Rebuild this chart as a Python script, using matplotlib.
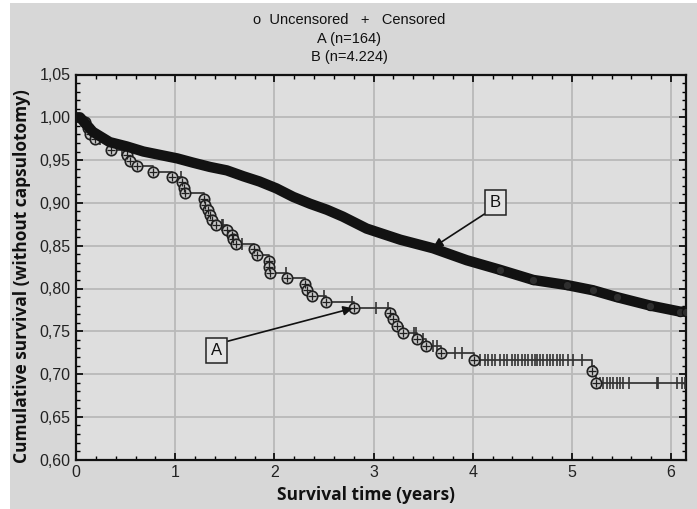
import matplotlib
matplotlib.use('Agg')
import matplotlib.pyplot as plt
from matplotlib.patches import Rectangle
from matplotlib.ticker import MultipleLocator, FuncFormatter
import numpy as np

# group A (n=164): event times (years) and survival after each event
a_time = [0.09, 0.12, 0.14, 0.19, 0.35, 0.51, 0.54, 0.62, 0.78, 0.97, 1.07, 1.09, 1.10,
          1.29, 1.30, 1.33, 1.35, 1.37, 1.41, 1.52, 1.57, 1.58, 1.61, 1.79, 1.82,
          1.95, 1.95, 1.96, 2.13, 2.31, 2.33, 2.38, 2.52, 2.80, 3.17, 3.20, 3.24,
          3.30, 3.44, 3.53, 3.68, 4.01, 5.20, 5.24]
a_surv = [0.994, 0.987, 0.981, 0.975, 0.962, 0.956, 0.949, 0.943, 0.936, 0.930, 0.924,
          0.917, 0.911, 0.905, 0.898, 0.892, 0.886, 0.880, 0.874, 0.868, 0.862, 0.858,
          0.852, 0.846, 0.839, 0.832, 0.825, 0.818, 0.812, 0.805, 0.798, 0.791, 0.784,
          0.777, 0.771, 0.764, 0.756, 0.748, 0.741, 0.733, 0.725, 0.717, 0.704, 0.690]
# group A censored times
a_cens = [0.24, 0.46, 1.06, 1.47, 1.48, 1.67, 2.12, 2.50, 2.78, 3.02, 3.15, 3.41, 3.43,
          3.50, 3.60, 3.64, 3.82, 3.89,
          4.07, 4.12, 4.15, 4.19, 4.22, 4.27, 4.32, 4.35, 4.40, 4.43, 4.46, 4.50, 4.53,
          4.56, 4.60, 4.63, 4.65, 4.68, 4.71, 4.75, 4.78, 4.81, 4.85, 4.88, 4.91, 4.96,
          5.01, 5.10, 5.22,
          5.28, 5.31, 5.35, 5.38, 5.41, 5.45, 5.48, 5.51, 5.58, 5.86, 5.87, 6.06, 6.11, 6.14]

# group B (n=4.224): survival along the curve
b_time = [0.0, 0.04, 0.17, 0.34, 0.51, 0.68, 0.85, 1.02, 1.18, 1.35, 1.52, 1.69, 1.85,
          2.02, 2.19, 2.36, 2.53, 2.69, 2.93, 3.27, 3.60, 3.94, 4.27, 4.61, 4.95, 5.21,
          5.45, 5.79, 6.09, 6.15]
b_surv = [1.000, 1.000, 0.983, 0.971, 0.966, 0.960, 0.956, 0.952, 0.947, 0.942, 0.938,
          0.931, 0.925, 0.917, 0.907, 0.899, 0.892, 0.884, 0.870, 0.857, 0.847, 0.833,
          0.822, 0.810, 0.804, 0.798, 0.790, 0.780, 0.773, 0.773]

x_end = 6.15

plt.rcParams['font.family'] = ['Liberation Sans Narrow', 'Liberation Sans', 'DejaVu Sans']

W, H = 697, 509
fig = plt.figure(figsize=(W / 100, H / 100), dpi=100, facecolor='white')
fig.patches.append(Rectangle((10 / W, 0), 1, 1 - 3 / H, transform=fig.transFigure,
                             facecolor='#d7d7d7', edgecolor='none', zorder=-10))
ax = fig.add_axes([76 / W, 49.3 / H, 610 / W, 385.2 / H])
ax.set_facecolor('#dedede')

# step curve for A, censored marks sit on the current step level
a_step_t = [0.0] + a_time + [x_end]
a_step_s = [1.0] + a_surv + [a_surv[-1]]
idx = np.searchsorted(a_step_t[:-1], a_cens, side='right') - 1
cens_s = [a_step_s[i] for i in idx]

ax.step(a_step_t, a_step_s, where='post', color='#3a3a3a', lw=1.3, zorder=3)
ax.plot(a_cens, cens_s, ls='none', marker='|', ms=8, mew=1.2, color='#333333', zorder=4)
ax.plot(a_time, a_surv, ls='none', marker='o', ms=7.5, mfc='#c8c8c8', mec='#202020',
        mew=1.2, zorder=5)
ax.plot(a_time, a_surv, ls='none', marker='+', ms=6, mew=0.9, color='#202020', zorder=5)

# B is so dense that its markers merge into a thick band
ax.plot(b_time, b_surv, color='#121212', lw=7.5, solid_capstyle='round',
        solid_joinstyle='round', zorder=6)
ax.plot(b_time[-8:], b_surv[-8:], ls='none', marker='o', ms=6, mfc='#2e2e2e',
        mec='#111111', mew=0.8, zorder=7)

ax.set_xlim(0, x_end)
ax.set_ylim(0.60, 1.05)
ax.xaxis.set_major_locator(MultipleLocator(1))
ax.xaxis.set_minor_locator(MultipleLocator(0.2))
ax.yaxis.set_major_locator(MultipleLocator(0.05))
ax.yaxis.set_minor_locator(MultipleLocator(0.01))
ax.yaxis.set_major_formatter(FuncFormatter(lambda v, p: f'{v:.2f}'.replace('.', ',')))
ax.xaxis.set_major_formatter(FuncFormatter(lambda v, p: f'{v:.0f}'))
ax.tick_params(which='both', direction='in', top=True, right=True, colors='black',
               labelcolor='#222222', labelsize=11.5)
ax.tick_params(which='major', length=5, width=1.2, pad=4)
ax.tick_params(which='minor', length=3, width=1)
ax.grid(True, which='major', color='#b9b9b9', lw=1.3, zorder=0)
ax.set_axisbelow(True)
for s in ax.spines.values():
    s.set_linewidth(1.6)
    s.set_color('#111111')

ax.annotate('A', xy=(2.79, 0.777), xytext=(1.42, 0.728), ha='center', va='center',
            fontsize=12, fontfamily='Liberation Sans', color='#111111',
            bbox=dict(boxstyle='square,pad=0.3', fc='#e4e4e4', ec='#222222', lw=1.1),
            arrowprops=dict(arrowstyle='-|>', color='#111111', lw=1.2, mutation_scale=14,
                            shrinkA=0, shrinkB=0, relpos=(1, 1)),
            zorder=8)
ax.annotate('B', xy=(3.60, 0.848), xytext=(4.23, 0.900), ha='center', va='center',
            fontsize=12, fontfamily='Liberation Sans', color='#111111',
            bbox=dict(boxstyle='square,pad=0.3', fc='#e4e4e4', ec='#222222', lw=1.1),
            arrowprops=dict(arrowstyle='-|>', color='#111111', lw=1.2, mutation_scale=14,
                            shrinkA=0, shrinkB=0, relpos=(0, 0)),
            zorder=8)

fig.text(366 / W, 1 - 495 / H, 'Survival time (years)', ha='center', va='center',
         fontfamily='Open Sans', fontweight='bold', fontsize=12.5, color='#111111')
fig.text(22 / W, 1 - 276 / H, 'Cumulative survival (without capsulotomy)', ha='center',
         va='center', rotation=90, fontfamily='Open Sans', fontweight='bold',
         fontsize=12.5, color='#111111')

# legend block above the plot
fig.text(349 / W, 1 - 20 / H, 'o  Uncensored   +   Censored', ha='center', va='center',
         fontsize=10.5, color='#111111')
fig.text(349 / W, 1 - 39 / H, 'A (n=164)', ha='center', va='center', fontsize=10.5,
         color='#111111')
fig.text(349 / W, 1 - 57 / H, 'B (n=4.224)', ha='center', va='center', fontsize=10.5,
         color='#111111')

fig.savefig('out.png', dpi=100, facecolor=fig.get_facecolor())
